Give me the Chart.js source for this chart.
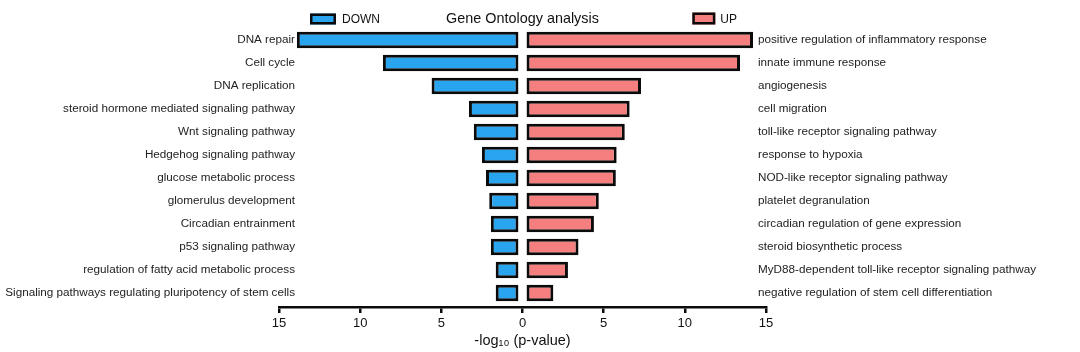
<!DOCTYPE html>
<html>
<head>
<meta charset="utf-8">
<script src="https://cdn.jsdelivr.net/npm/chart.js@4/dist/chart.umd.min.js"></script>
<style>
  html, body { margin: 0; padding: 0; background: #ffffff; }
  #wrap { width: 1080px; height: 352px; position: relative; }
  canvas { display: block; }
</style>
</head>
<body>
<div id="wrap"><canvas id="c" width="1080" height="352"></canvas></div>
<script>
// ---- data ----
const chartTitle = 'Gene Ontology analysis';
const axisTitle = '-log\u2081\u2080 (p-value)';
const seriesNames = ['DOWN', 'UP'];

const downTerms = [
  'DNA repair',
  'Cell cycle',
  'DNA replication',
  'steroid hormone mediated signaling pathway',
  'Wnt signaling pathway',
  'Hedgehog signaling pathway',
  'glucose metabolic process',
  'glomerulus development',
  'Circadian entrainment',
  'p53 signaling pathway',
  'regulation of fatty acid metabolic process',
  'Signaling pathways regulating pluripotency of stem cells'
];
const downValues = [13.9, 8.6, 5.6, 3.3, 3.0, 2.5, 2.25, 2.05, 1.95, 1.95, 1.65, 1.65];

const upTerms = [
  'positive regulation of inflammatory response',
  'innate immune response',
  'angiogenesis',
  'cell migration',
  'toll-like receptor signaling pathway',
  'response to hypoxia',
  'NOD-like receptor signaling pathway',
  'platelet degranulation',
  'circadian regulation of gene expression',
  'steroid biosynthetic process',
  'MyD88-dependent toll-like receptor signaling pathway',
  'negative regulation of stem cell differentiation'
];
const upValues = [14.2, 13.4, 7.3, 6.6, 6.3, 5.8, 5.75, 4.7, 4.4, 3.45, 2.8, 1.9];

const axisMax = 15;
const axisStep = 5;

// ---- styles ----
const FONT = "'Liberation Sans', Arial, Helvetica, sans-serif";
const LABEL_SIZE = 11.7;
const BLUE = '#29a4ef';
const PINK = '#f47f7e';
const EDGE = '#0b0b0b';

// widest term label, so mirrored tick labels can be aligned next to the plot
const measureCtx = document.createElement('canvas').getContext('2d');
measureCtx.font = 'normal ' + LABEL_SIZE + 'px ' + FONT;
const widest = arr => Math.max(...arr.map(t => measureCtx.measureText(t).width));
const widestDown = widest(downTerms);
const widestUp = widest(upTerms);
const LEFT_OVERHANG = 16;   // labels reach this far past the left end of the axis
const RIGHT_OVERHANG = 8;   // labels start this far before the right end of the axis

const sideLegend = {
  id: 'sideLegend',
  afterDraw(chart) {
    const { ctx, chartArea } = chart;
    const ds = chart.data.datasets;
    ctx.save();
    ctx.font = '12px ' + FONT;
    ctx.textBaseline = 'middle';
    const drawBox = (x, y, w, h, fill) => {
      ctx.fillStyle = fill;
      ctx.fillRect(x, y, w, h);
      ctx.lineWidth = 2.5;
      ctx.strokeStyle = EDGE;
      ctx.strokeRect(x + 1.25, y + 1.25, w - 2.5, h - 2.5);
    };
    const lx = chartArea.left + 31;
    drawBox(lx, 13.5, 26, 11, ds[0].backgroundColor);
    ctx.fillStyle = '#111';
    ctx.textAlign = 'left';
    ctx.fillText(ds[0].label, lx + 32, 19.5);
    const tw = ctx.measureText(ds[1].label).width;
    const tx = chartArea.right - 29 - tw;
    drawBox(tx - 28, 12.5, 23, 12, ds[1].backgroundColor);
    ctx.fillStyle = '#111';
    ctx.fillText(ds[1].label, tx, 19.5);
    ctx.restore();
  }
};

const barStyle = {
  borderColor: EDGE,
  borderWidth: 3,
  borderSkipped: false,
  barPercentage: 0.72,
  categoryPercentage: 1,
  grouped: false
};

new Chart(document.getElementById('c').getContext('2d'), {
  type: 'bar',
  data: {
    labels: downTerms,
    datasets: [
      Object.assign({
        label: seriesNames[0],
        data: downValues.map(v => -v),
        yAxisID: 'yL',
        xAxisID: 'x',
        base: -0.25,
        backgroundColor: BLUE
      }, barStyle),
      Object.assign({
        label: seriesNames[1],
        data: upValues,
        yAxisID: 'yR',
        xAxisID: 'x',
        base: 0.25,
        backgroundColor: PINK
      }, barStyle)
    ]
  },
  options: {
    indexAxis: 'y',
    responsive: false,
    animation: false,
    layout: { padding: 0 },
    scales: {
      x: {
        type: 'linear',
        position: 'bottom',
        weight: 1,
        min: -axisMax,
        max: axisMax,
        ticks: {
          stepSize: axisStep,
          callback: v => Math.abs(v),
          color: '#111',
          font: { family: FONT, size: 13 },
          padding: 3
        },
        grid: { drawOnChartArea: false, drawTicks: true, tickLength: 6, color: EDGE, lineWidth: 2.5 },
        border: { display: true, color: EDGE, width: 2.5 },
        title: {
          display: true,
          text: axisTitle,
          color: '#111',
          font: { family: FONT, size: 14.5 },
          padding: { top: 2, bottom: 2.5 }
        },
        afterFit: s => { s.height = 45; }
      },
      gap: {
        type: 'linear',
        position: 'bottom',
        weight: 0,
        display: true,
        ticks: { display: false },
        grid: { display: false, drawTicks: false },
        border: { display: false },
        afterFit: s => { s.height = 2.5; }
      },
      yL: {
        type: 'category',
        position: 'left',
        labels: downTerms,
        offset: true,
        grid: { display: false, drawTicks: false },
        border: { display: false },
        ticks: {
          color: '#222',
          font: { family: FONT, size: LABEL_SIZE },
          mirror: true,
          crossAlign: 'far',
          padding: LEFT_OVERHANG - widestDown,
          autoSkip: false
        },
        afterFit: s => { s.width = 279; s.paddingTop = 0; s.paddingBottom = 0; }
      },
      yR: {
        type: 'category',
        position: 'right',
        labels: upTerms,
        offset: true,
        grid: { display: false, drawTicks: false },
        border: { display: false },
        ticks: {
          color: '#222',
          font: { family: FONT, size: LABEL_SIZE },
          mirror: true,
          crossAlign: 'far',
          padding: widestUp - RIGHT_OVERHANG,
          autoSkip: false
        },
        afterFit: s => { s.width = 314; s.paddingTop = 0; s.paddingBottom = 0; }
      }
    },
    plugins: {
      legend: { display: false },
      tooltip: { enabled: false },
      title: {
        display: true,
        text: chartTitle,
        fullSize: false,
        color: '#111',
        font: { family: FONT, size: 14.4, weight: 'normal' },
        padding: { top: 10, bottom: 1.2 }
      }
    }
  },
  plugins: [sideLegend]
});
</script>
</body>
</html>
